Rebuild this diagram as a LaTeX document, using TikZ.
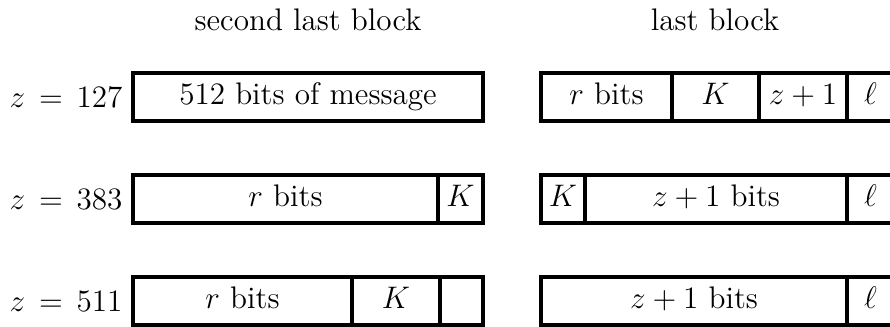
\documentclass[tikz,border=0pt]{standalone}
\usetikzlibrary{calc}

\tikzset{
  cell/.style={black, line width=1.3pt},
  lab/.style={inner sep=0pt, text height=1.6ex, text depth=.3ex}
}

\begin{document}
\begin{tikzpicture} [x=0.385pt, y=-0.385pt, font=\large]
\useasboundingbox (0,0) rectangle (890,327);
\clip (0,0) rectangle (890,327);
\node (hsec) at (308,20) {second last block};
\node (hlast) at (715,20) {last block};
\foreach \z/\y in {127/97, 383/199, 511/301}
 \node[left, inner sep=0pt] (z\z) at (123,\y) {$z\,=\,\z$};
% blocks: left/right/top/text
\foreach \a/\b/\y/\t in {133/483/73/{512 bits of message},
  541/672/73/{$r$ bits}, 672/759/73/{$K$}, 759/847/73/{$z+1$}, 847/894/73/{$\ell$},
  133/438/175/{$r$ bits}, 438/483/175/{$K$},
  541/585/175/{$K$}, 585/847/175/{$z+1$ bits}, 847/894/175/{$\ell$},
  133/352/277/{$r$ bits}, 352/440/277/{$K$}, 440/483/277/{},
  541/847/277/{$z+1$ bits}, 847/894/277/{$\ell$}} {
 \draw[cell] (\a,\y) rectangle (\b,\y+48);
 \node[lab] (c\a-\y) at ({(\a+\b)/2},\y+24) {\t};
}
\end{tikzpicture}
\end{document}
